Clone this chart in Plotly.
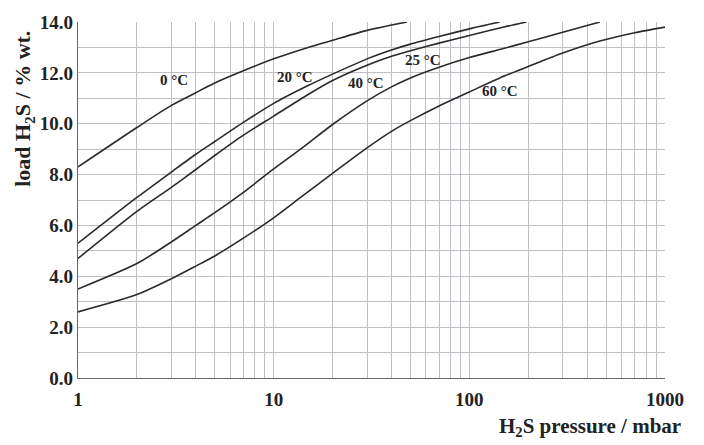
import math
import plotly.graph_objects as go

# H2S pressure (mbar) and load (% wt.) per temperature curve
p_0 = [1, 2, 3, 4, 5, 7, 10, 15, 20, 30, 48]
load_0 = [8.3, 9.85, 10.72, 11.22, 11.6, 12.08, 12.55, 13.0, 13.28, 13.67, 14.0]

p_20 = [1, 2, 3, 4, 5, 7, 10, 15, 20, 30, 40, 50, 70, 100, 143]
load_20 = [5.3, 7.1, 8.1, 8.8, 9.3, 10.05, 10.8, 11.5, 11.95, 12.55, 12.9, 13.13, 13.43, 13.73, 14.0]

p_25 = [1, 2, 3, 4, 5, 7, 10, 15, 20, 30, 40, 50, 70, 100, 150, 196]
load_25 = [4.7, 6.55, 7.5, 8.2, 8.75, 9.55, 10.3, 11.15, 11.7, 12.3, 12.65, 12.87, 13.17, 13.47, 13.8, 14.0]

p_40 = [1, 2, 3, 4, 5, 7, 10, 14, 20, 30, 40, 50, 70, 100, 143, 200, 300, 465]
load_40 = [3.5, 4.5, 5.35, 6.0, 6.5, 7.3, 8.22, 9.05, 9.97, 10.9, 11.45, 11.8, 12.22, 12.6, 12.92, 13.22, 13.6, 14.0]

p_60 = [1, 2, 3, 4, 5, 7, 10, 14, 20, 30, 40, 50, 70, 100, 143, 200, 300, 465, 700, 1000]
load_60 = [2.6, 3.28, 3.9, 4.4, 4.8, 5.5, 6.3, 7.15, 8.05, 9.05, 9.7, 10.12, 10.7, 11.25, 11.8, 12.25, 12.78, 13.25, 13.58, 13.8]

curve_labels = ["0 °C", "20 °C", "25 °C", "40 °C", "60 °C"]
label_x = [3.1, 12.85, 58.3, 29.6, 143]
label_y = [11.7, 11.85, 12.5, 11.6, 11.3]

x_major = [1, 10, 100, 1000]
x_major_text = ["1", "10", "100", "1000"]
x_minor = [m * d for d in (1, 10, 100) for m in range(2, 10)]
y_major = [0, 2, 4, 6, 8, 10, 12, 14]
y_major_text = ["0.0", "2.0", "4.0", "6.0", "8.0", "10.0", "12.0", "14.0"]

LINE = "#2a2a2a"
GRID = "#bfbfc6"
FONT = "Liberation Serif"

fig = go.Figure()
for xs, ys in [(p_0, load_0), (p_20, load_20), (p_25, load_25), (p_40, load_40), (p_60, load_60)]:
    fig.add_trace(go.Scatter(x=xs, y=ys, mode="lines",
                             line=dict(color=LINE, width=1.6, shape="spline", smoothing=0.7),
                             showlegend=False, hoverinfo="skip"))

for t, lx, ly in zip(curve_labels, label_x, label_y):
    fig.add_annotation(x=math.log10(lx), y=ly, text="<b>" + t + "</b>", showarrow=False,
                       font=dict(family=FONT, size=15, color="#222"))

fig.add_annotation(xref="paper", yref="paper", x=1.031, y=-0.139, xanchor="right", yanchor="middle",
                   text="<b>H<sub>2</sub>S pressure / mbar</b>", showarrow=False,
                   font=dict(family=FONT, size=21, color="#222"))
fig.add_annotation(xref="paper", yref="paper", x=-0.092, y=0.756, xanchor="center", yanchor="middle",
                   textangle=-90, text="<b>load H<sub>2</sub>S / % wt.</b>", showarrow=False,
                   font=dict(family=FONT, size=22, color="#222"))

fig.update_xaxes(type="log", range=[0, 3], tickvals=x_major, ticktext=["<b>%s</b>" % s for s in x_major_text],
                 showgrid=True, gridcolor=GRID, gridwidth=1, showline=True, linecolor="#666", linewidth=1.2,
                 ticks="", tickfont=dict(family=FONT, size=19, color="#222"), zeroline=False,
                 ticklabelstandoff=4,
                 minor=dict(tickvals=x_minor, showgrid=True, gridcolor=GRID, gridwidth=1, ticks=""))
fig.update_yaxes(range=[0, 14], tickvals=y_major, ticktext=["<b>%s</b>" % s for s in y_major_text],
                 showgrid=True, gridcolor=GRID, gridwidth=1, showline=True, linecolor="#666", linewidth=1.2,
                 ticks="", tickfont=dict(family=FONT, size=19, color="#222"), zeroline=False,
                 minor=dict(dtick=1, showgrid=True, gridcolor=GRID, gridwidth=1, ticks=""))

fig.update_layout(width=704, height=445, margin=dict(l=78, r=39, t=17, b=67),
                  plot_bgcolor="white", paper_bgcolor="white")
fig.write_html("out.html", config={"displayModeBar": False},
               post_script="document.body.style.margin='0';")
